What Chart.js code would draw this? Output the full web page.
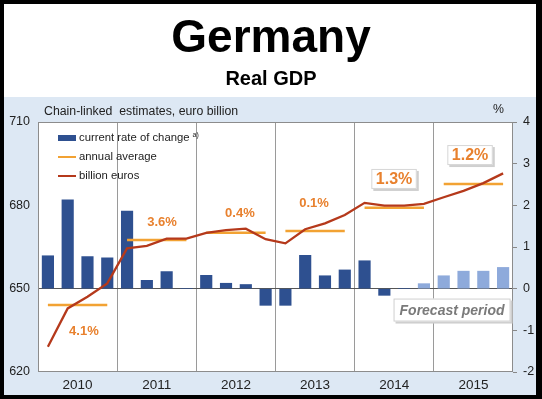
<!DOCTYPE html>
<html><head><meta charset="utf-8">
<script src="https://cdn.jsdelivr.net/npm/chart.js@4/dist/chart.umd.min.js"></script>
<style>html,body{margin:0;padding:0;background:#fff;}canvas{display:block;}</style>
</head><body>
<canvas id="c" width="542" height="399"></canvas>
<script>
// ---- data ----
const years = ['2010','2011','2012','2013','2014','2015'];
const growth = [0.79,2.13,0.77,0.74, 1.86,0.20,0.41,0, 0.32,0.13,0.10,-0.40, -0.40,0.80,0.31,0.45, 0.67,-0.16,0,0.12, 0.31,0.42,0.42,0.51];
const gdp = [629.1,642.9,647.1,651.9, 664.5,665.4,668.0,668.0, 670.1,671.1,671.6,667.8, 666.3,671.4,673.5,676.5, 680.9,679.9,679.9,680.5, 682.9,685.2,688.0,691.5];
const annualAvg = [644.1,667.5,670.1,670.8,679.1,687.7];
const annualChange = ['4.1%','3.6%','0.4%','0.1%','1.3%','1.2%'];
const forecastFrom = 19;
const leftTicks = [620,650,680,710];
const rightTicks = [-2,-1,0,1,2,3,4];

const FONT = '"Liberation Sans", Arial, sans-serif';
const C_BAR = '#2e5090', C_BAR_F = '#8eaadb', C_GDP = '#b5391b', C_AVG = '#f2a233', C_LBL = '#e8812e';

const barData = growth.map((v,i)=>({x:i+0.5,y:v}));
const gdpData = gdp.map((v,i)=>({x:i+0.5,y:v}));
const avgData = [];
annualAvg.forEach((v,i)=>{ avgData.push({x:4*i+0.5,y:v},{x:4*i+3.5,y:v},{x:4*i+3.5,y:null}); });

const labelPlace = [
  {x:2.32,y:635.1,boxed:false},{x:6.27,y:674.1,boxed:false},{x:10.2,y:677.6,boxed:false},
  {x:13.95,y:680.9,boxed:false},{x:17.99,y:689.5,boxed:true},{x:21.83,y:698.1,boxed:true}
];
const forecastPlace = {x:20.92,y:642.3};

const decor = {
  id:'decor',
  beforeDraw(chart){
    const ctx = chart.ctx, a = chart.chartArea, W = chart.width, H = chart.height;
    ctx.save();
    ctx.fillStyle = '#000'; ctx.fillRect(0,0,W,H);
    ctx.fillStyle = '#fff'; ctx.fillRect(4,4,532,93);
    ctx.fillStyle = '#dde8f4'; ctx.fillRect(4,97,532,298);
    ctx.fillStyle = '#fff'; ctx.fillRect(a.left,a.top,a.right-a.left,a.bottom-a.top);
    ctx.fillStyle = '#000'; ctx.textAlign='center'; ctx.textBaseline='alphabetic';
    ctx.font = 'bold 46px '+FONT; ctx.fillText('Germany', 271, 52);
    ctx.font = 'bold 20px '+FONT; ctx.fillText('Real GDP', 271, 85);
    ctx.fillStyle = '#222'; ctx.font = '12.3px '+FONT; ctx.textAlign='left'; ctx.textBaseline='middle';
    ctx.fillText('Chain-linked  estimates, euro billion', 44, 112);
    ctx.textAlign='right'; ctx.fillText('%', 504, 110);
    ctx.restore();
  },
  afterDatasetsDraw(chart){
    const ctx = chart.ctx, a = chart.chartArea;
    const xs = chart.scales.x, yl = chart.scales.yL;
    ctx.save();
    ctx.strokeStyle = '#8c8c8c'; ctx.lineWidth = 1;
    ctx.strokeRect(a.left+0.5,a.top+0.5,a.right-a.left-1,a.bottom-a.top-1);
    // legend
    const ds = chart.data.datasets;
    const lx = 58, items = [ds[2], ds[1], ds[0]], ly = [138,157,176];
    ctx.textBaseline='middle'; ctx.textAlign='left';
    items.forEach((d,i)=>{
      if(d.type==='bar'){ ctx.fillStyle = C_BAR; ctx.fillRect(lx, ly[i]-3, 18, 6); }
      else { ctx.strokeStyle = d.borderColor; ctx.lineWidth = 2; ctx.beginPath(); ctx.moveTo(lx,ly[i]); ctx.lineTo(lx+18,ly[i]); ctx.stroke(); }
      ctx.fillStyle = '#222'; ctx.font = '11.3px '+FONT;
      ctx.fillText(d.label, lx+21, ly[i]);
      if(i===0){ const w = ctx.measureText(d.label).width; ctx.font='7px '+FONT; ctx.fillText('a)', lx+21+w+3, ly[i]-3); }
    });
    // annual change labels
    labelPlace.forEach((p,i)=>{
      const px = xs.getPixelForValue(p.x), py = yl.getPixelForValue(p.y);
      ctx.textAlign='center'; ctx.textBaseline='middle';
      if(p.boxed){
        ctx.font = 'bold 16px '+FONT;
        const w = ctx.measureText(annualChange[i]).width + 9, h = 20;
        ctx.fillStyle = '#cfcfcf'; ctx.fillRect(px-w/2+2, py-h/2+2, w, h);
        ctx.fillStyle = '#fff'; ctx.fillRect(px-w/2, py-h/2, w, h);
        ctx.strokeStyle = '#d6d6d6'; ctx.lineWidth=1; ctx.strokeRect(px-w/2+0.5, py-h/2+0.5, w-1, h-1);
      } else ctx.font = 'bold 13px '+FONT;
      ctx.fillStyle = C_LBL; ctx.fillText(annualChange[i], px, py+1);
    });
    // forecast box
    const fx = xs.getPixelForValue(forecastPlace.x), fy = yl.getPixelForValue(forecastPlace.y);
    ctx.font = 'italic bold 14px '+FONT;
    const fw = 117, fh = 23;
    ctx.fillStyle = '#cfcfcf'; ctx.fillRect(fx-fw/2+2, fy-fh/2+2, fw, fh);
    ctx.fillStyle = '#fff'; ctx.fillRect(fx-fw/2, fy-fh/2, fw, fh);
    ctx.strokeStyle = '#d0d0d0'; ctx.strokeRect(fx-fw/2+0.5, fy-fh/2+0.5, fw-1, fh-1);
    ctx.fillStyle = '#7a7a7a'; ctx.textAlign='center'; ctx.textBaseline='middle';
    ctx.fillText('Forecast period', fx, fy+1);
    ctx.restore();
  }
};

new Chart(document.getElementById('c'), {
  data: {
    datasets: [
      {type:'line', label:'billion euros', data:gdpData, yAxisID:'yL', xAxisID:'x', borderColor:C_GDP, borderWidth:2.3, pointRadius:0, tension:0, order:0},
      {type:'line', label:'annual average', data:avgData, yAxisID:'yL', xAxisID:'x', borderColor:C_AVG, borderWidth:2.5, pointRadius:0, spanGaps:false, order:1},
      {type:'bar', label:'current rate of change', data:barData, yAxisID:'yR', xAxisID:'x',
        backgroundColor: growth.map((v,i)=> i>=forecastFrom ? C_BAR_F : C_BAR), barThickness:11.5, order:2}
    ]
  },
  options: {
    responsive:false, devicePixelRatio:1, animation:false,
    layout:{padding:{top:122,left:0,right:0,bottom:0}},
    plugins:{legend:{display:false}, tooltip:{enabled:false}},
    scales:{
      x:{type:'linear', position:'bottom', min:0, max:24, offset:false,
        afterBuildTicks(s){ const t=[]; for(let v=0; v<=24; v+=2) t.push({value:v}); s.ticks=t; },
        afterFit(s){ s.height = 27; },
        border:{display:false},
        grid:{offset:false, drawTicks:false, color:c=> (c.tick && c.tick.value%4===0 && c.tick.value>0 && c.tick.value<24) ? '#9a9a9a' : 'rgba(0,0,0,0)'},
        ticks:{autoSkip:false, maxRotation:0, padding:5, color:'#222', font:{family:FONT,size:13.5},
          callback:v=> (v%4===2) ? years[(v-2)/4] : ''}
      },
      yL:{type:'linear', position:'left', min:620, max:710,
        afterBuildTicks(s){ s.ticks = leftTicks.map(v=>({value:v})); },
        afterFit(s){ s.width = 38; },
        border:{display:false}, grid:{display:false, drawTicks:false},
        ticks:{padding:8, color:'#222', font:{family:FONT,size:12.5}}
      },
      yR:{type:'linear', position:'right', min:-2, max:4,
        afterBuildTicks(s){ s.ticks = rightTicks.map(v=>({value:v})); },
        afterFit(s){ s.width = 29; },
        border:{display:false},
        grid:{drawTicks:true, tickLength:4, tickColor:'#888', color:c=> (c.tick && c.tick.value===0) ? '#555' : 'rgba(0,0,0,0)'},
        ticks:{padding:6, color:'#222', font:{family:FONT,size:12.5}}
      }
    }
  },
  plugins:[decor]
});
</script>
</body></html>
